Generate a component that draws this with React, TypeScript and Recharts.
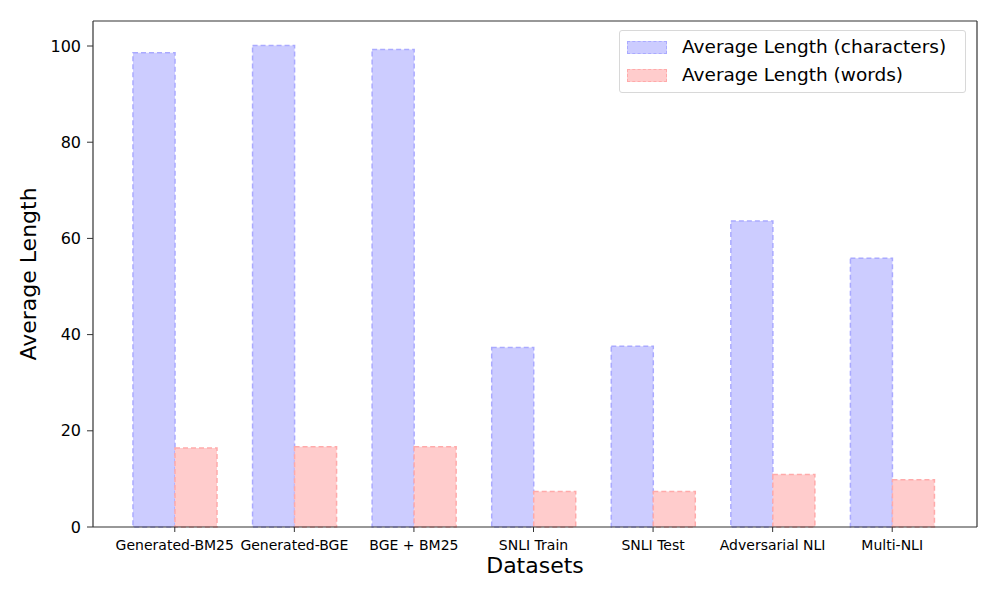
import React from 'react';
import {
  BarChart,
  Bar,
  XAxis,
  YAxis,
} from 'recharts';

const datasets = [
  'Generated-BM25',
  'Generated-BGE',
  'BGE + BM25',
  'SNLI Train',
  'SNLI Test',
  'Adversarial NLI',
  'Multi-NLI',
];
const avgChars = [98.6, 100.1, 99.3, 37.3, 37.6, 63.6, 55.9];
const avgWords = [16.4, 16.7, 16.7, 7.4, 7.4, 10.9, 9.8];
const yTicks = [0, 20, 40, 60, 80, 100];

const data = datasets.map((name, i) => ({
  name,
  chars: avgChars[i],
  words: avgWords[i],
}));

const series = [
  { key: 'chars', label: 'Average Length (characters)', fill: '#ccccff', stroke: '#aaaaff' },
  { key: 'words', label: 'Average Length (words)', fill: '#ffcccc', stroke: '#ffaaaa' },
];

const font = '"DejaVu Sans", sans-serif';

const LegendBox = () => (
  <div
    style={{
      position: 'absolute',
      top: 30,
      left: 619,
      width: 347,
      boxSizing: 'border-box',
      border: '1px solid #d8d8d8',
      borderRadius: 3,
      background: '#fff',
      padding: '2px 6px 3px 7px',
      fontFamily: font,
      fontSize: 18.5,
      color: '#000',
      lineHeight: '28px',
    }}
  >
    {series.map((it) => (
      <div key={it.key} style={{ display: 'flex', alignItems: 'center' }}>
        <span
          style={{
            display: 'inline-block',
            width: 40,
            height: 13,
            boxSizing: 'border-box',
            background: it.fill,
            border: `1.5px dashed ${it.stroke}`,
            marginRight: 15,
          }}
        />
        {it.label}
      </div>
    ))}
  </div>
);

const App = () => {
  return (
    <div style={{ position: 'absolute', left: 0, top: 0, background: '#fff' }}>
      <BarChart
        width={997}
        height={598}
        data={data}
        margin={{ top: 20, right: 19, left: 0, bottom: 41 }}
        barGap={0}
        barSize={42}
      >
        <XAxis
          dataKey="name"
          height={30}
          padding={{ left: 22, right: 25 }}
          tick={{ fontSize: 14, fill: '#000', fontFamily: font }}
          tickLine={{ stroke: '#333' }}
          axisLine={{ stroke: '#333', strokeWidth: 1.2 }}
          tickSize={5}
          tickMargin={8}
          interval={0}
          label={{
            value: 'Datasets',
            position: 'insideBottom',
            offset: -16,
            fontSize: 22,
            fill: '#000',
            fontFamily: font,
          }}
        />
        <XAxis
          xAxisId="top"
          dataKey="name"
          orientation="top"
          height={1}
          tick={false}
          tickLine={false}
          axisLine={{ stroke: '#333', strokeWidth: 1.2 }}
        />
        <YAxis
          domain={[0, 105.2]}
          ticks={yTicks}
          width={93}
          tick={{ fontSize: 16, fill: '#000', fontFamily: font }}
          tickLine={{ stroke: '#333' }}
          axisLine={{ stroke: '#333', strokeWidth: 1.2 }}
          tickSize={6}
          tickMargin={6}
          label={{
            value: 'Average Length',
            angle: -90,
            position: 'insideLeft',
            offset: 28,
            fontSize: 22,
            fill: '#000',
            fontFamily: font,
            style: { textAnchor: 'middle' },
          }}
        />
        <YAxis
          yAxisId="right"
          orientation="right"
          width={1}
          tick={false}
          tickLine={false}
          axisLine={{ stroke: '#333', strokeWidth: 1.2 }}
        />
        {series.map((s) => (
          <Bar
            key={s.key}
            dataKey={s.key}
            name={s.label}
            fill={s.fill}
            stroke={s.stroke}
            strokeWidth={1.5}
            strokeDasharray="5 3"
            isAnimationActive={false}
          />
        ))}
      </BarChart>
      <LegendBox />
    </div>
  );
};

export default App;
